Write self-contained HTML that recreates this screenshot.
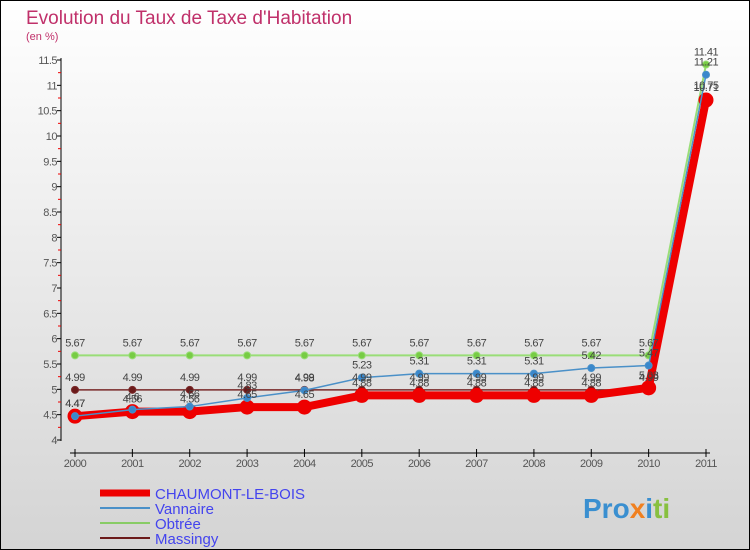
<!DOCTYPE html>
<html><head><meta charset="utf-8"><style>
body{margin:0}
#c{width:750px;height:550px;position:relative;overflow:hidden;font-family:"Liberation Sans",sans-serif}
</style></head><body>
<div id="c">
<svg id="s" width="750" height="550" xmlns="http://www.w3.org/2000/svg">
<defs><linearGradient id="bg" x1="0" y1="0" x2="0" y2="1"><stop offset="0" stop-color="#ffffff"/><stop offset="1" stop-color="#d4d4d4"/></linearGradient></defs>
<rect x="0.5" y="0.5" width="749" height="549" fill="url(#bg)" stroke="#000"/>
<text x="26" y="24" font-size="19" fill="#c0306a">Evolution du Taux de Taxe d'Habitation</text>
<text x="26" y="40" font-size="11" fill="#c0306a">(en %)</text>
<g id="axes"></g><g id="series"></g><g id="labels"></g>
<g>
<line x1="100" y1="493" x2="150" y2="493" stroke="#ee0000" stroke-width="7"/>
<text x="155" y="499" font-size="15" fill="#4444ee">CHAUMONT-LE-BOIS</text>
<line x1="100" y1="508" x2="150" y2="508" stroke="#4a90c8" stroke-width="2"/>
<text x="155" y="514" font-size="15" fill="#4444ee">Vannaire</text>
<line x1="100" y1="523" x2="150" y2="523" stroke="#88cc66" stroke-width="2"/>
<text x="155" y="529" font-size="15" fill="#4444ee">Obtrée</text>
<line x1="100" y1="538" x2="150" y2="538" stroke="#6b1a1a" stroke-width="2"/>
<text x="155" y="544" font-size="15" fill="#4444ee">Massingy</text>
</g>
<text x="583" y="518" font-size="28" font-weight="bold"><tspan fill="#3a8fd0">Pro</tspan><tspan fill="#f08020">x</tspan><tspan fill="#3a8fd0">i</tspan><tspan fill="#88c040">ti</tspan></text>
</svg></div>
<script>
const years=["2000","2001","2002","2003","2004","2005","2006","2007","2008","2009","2010","2011"];
const chaumont=[4.47,4.56,4.56,4.65,4.65,4.88,4.88,4.88,4.88,4.88,5.03,10.71];
const vannaire=[4.47,4.6,4.66,4.83,4.98,5.23,5.31,5.31,5.31,5.42,5.47,11.21];
const obtree=[5.67,5.67,5.67,5.67,5.67,5.67,5.67,5.67,5.67,5.67,5.67,11.41];
const massingy=[4.99,4.99,4.99,4.99,4.99,4.99,4.99,4.99,4.99,4.99,4.99,10.75];
const yTicks=[4,4.5,5,5.5,6,6.5,7,7.5,8,8.5,9,9.5,10,10.5,11,11.5];
const NS="http://www.w3.org/2000/svg";
const X=i=>75+i*(706-75)/11, Y=v=>440-(v-4)*(380/7.5);
function mk(t,a,p){const e=document.createElementNS(NS,t);for(const k in a)e.setAttribute(k,a[k]);p.appendChild(e);return e;}
const ax=document.getElementById('axes'),se=document.getElementById('series'),lb=document.getElementById('labels');
let e=mk('line',{x1:61,y1:58,x2:61,y2:441,stroke:'#000'},ax);


e=mk('line',{x1:70,y1:453,x2:710,y2:453,stroke:'#000'},ax);


yTicks.forEach(v=>{
 mk('line',{x1:57,y1:Y(v),x2:61,y2:Y(v),stroke:'#000'},ax);
 if(v<11.5)mk('line',{x1:58,y1:Y(v+0.25),x2:61,y2:Y(v+0.25),stroke:'#e00'},ax);
 const t=mk('text',{x:57,y:Y(v)+4,'font-size':11,fill:'#555','text-anchor':'end','letter-spacing':'-0.5'},ax);t.textContent=String(v);
 
 
});
years.forEach((y,i)=>{
 mk('line',{x1:X(i),y1:449,x2:X(i),y2:457,stroke:'#000'},ax);
 const t=mk('text',{x:X(i),y:467,'font-size':11,fill:'#555','text-anchor':'middle','letter-spacing':'-0.5'},ax);t.textContent=y;
 
 
});
function series(name,d,col,w,r,dotcol){
 const g=mk('g',{},se);
 
 
 mk('polyline',{points:d.map((v,i)=>X(i)+','+Y(v)).join(' '),fill:'none',stroke:col,'stroke-width':w,'stroke-linejoin':'round'},g);
 d.forEach((v,i)=>{const c=mk('circle',{cx:X(i),cy:Y(v),r:r,fill:dotcol,stroke:col,'stroke-width':1},g);
  
  
  const t=mk('text',{x:X(i),y:Y(v)-9,'font-size':11,fill:'#444','text-anchor':'middle','letter-spacing':'-0.5'},lb);t.textContent=String(v);
  
  });
}
series('obtree',obtree,'#99dd77',2,3.5,'#77cc44');
series('massingy',massingy,'#7a2a2a',1.5,3.5,'#6b1a1a');
series('chaumont',chaumont,'#ee0000',8,7,'#ee0000');
series('vannaire',vannaire,'#4a90c8',1.5,3.5,'#3a88cc');
</script>
</body></html>
